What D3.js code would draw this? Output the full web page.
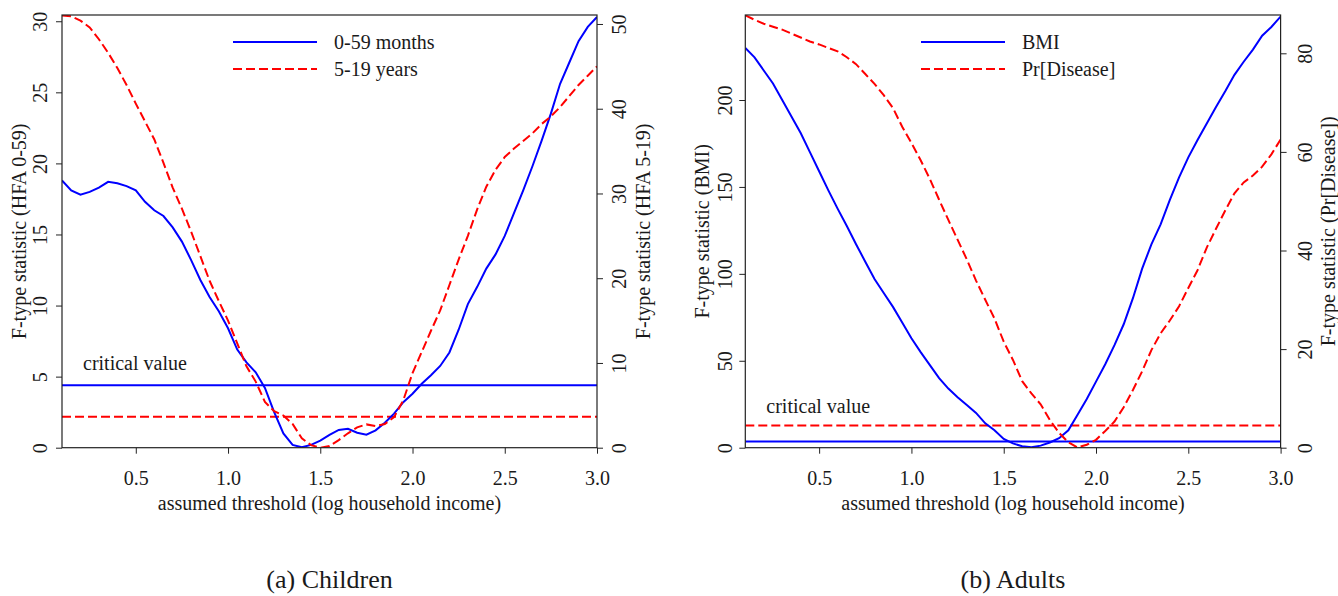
<!DOCTYPE html>
<html>
<head>
<meta charset="utf-8">
<script src="https://cdn.jsdelivr.net/npm/d3@7"></script>
<style>
  body { margin: 0; background: #fff; }
  svg text { font-family: "Liberation Serif", "Times New Roman", serif; fill: #1a1a1a; }
</style>
</head>
<body>
<svg id="chart" width="1338" height="596"></svg>
<script>
// assumed threshold (log household income)
const thresholds = [0.10, 0.15, 0.20, 0.25, 0.30, 0.35, 0.40, 0.45, 0.50, 0.55,
  0.60, 0.65, 0.70, 0.75, 0.80, 0.85, 0.90, 0.95, 1.00, 1.05,
  1.10, 1.15, 1.20, 1.25, 1.30, 1.35, 1.40, 1.45, 1.50, 1.55,
  1.60, 1.65, 1.70, 1.75, 1.80, 1.85, 1.90, 1.95, 2.00, 2.05,
  2.10, 2.15, 2.20, 2.25, 2.30, 2.35, 2.40, 2.45, 2.50, 2.55,
  2.60, 2.65, 2.70, 2.75, 2.80, 2.85, 2.90, 2.95, 3.00];

// (a) children
const hfa0to59 = [18.8, 18.1, 17.8, 18.0, 18.3, 18.7, 18.6, 18.4, 18.1, 17.3,
  16.7, 16.3, 15.5, 14.5, 13.2, 11.8, 10.6, 9.6, 8.4, 6.9,
  6.0, 5.3, 4.2, 2.5, 1.0, 0.2, 0.03, 0.2, 0.5, 0.9,
  1.25, 1.33, 1.05, 0.92, 1.22, 1.75, 2.4, 3.2, 3.8, 4.5,
  5.1, 5.75, 6.7, 8.3, 10.1, 11.3, 12.6, 13.6, 14.9, 16.5,
  18.1, 19.8, 21.6, 23.5, 25.6, 27.1, 28.6, 29.6, 30.3];
const hfa5to19 = [51.0, 50.9, 50.4, 49.6, 48.2, 46.6, 44.8, 42.8, 40.6, 38.5,
  36.4, 33.6, 30.7, 28.2, 25.5, 22.6, 19.7, 17.3, 15.0, 12.3,
  9.6, 7.8, 5.4, 4.3, 3.8, 2.8, 1.1, 0.3, 0.0, 0.2,
  0.9, 1.7, 2.4, 2.75, 2.55, 2.8, 3.6, 5.6, 8.8, 11.3,
  13.8, 16.2, 19.2, 22.2, 25.0, 28.1, 30.8, 32.8, 34.3, 35.3,
  36.2, 37.1, 38.2, 39.1, 40.2, 41.5, 42.8, 43.9, 45.0];
const critHfa0to59 = 4.4;
const critHfa5to19 = 3.66;

// (b) adults
const bmi = [230, 224.5, 217, 209.5, 200, 190.5, 181, 170, 159, 148,
  137.5, 127.5, 117, 107, 97, 89, 81, 72, 63, 55,
  47.5, 40, 34, 29, 24.5, 20, 14, 10, 5, 2.5,
  0.8, 0.2, 1.2, 3, 5.5, 10, 19, 28, 38, 48,
  59, 71, 86, 103, 117, 128.5, 142.5, 155.5, 167, 177,
  186.5, 196, 205, 214.5, 222, 229, 237, 242, 248];
const prDisease = [87.7, 86.8, 86.0, 85.4, 84.8, 84.0, 83.2, 82.4, 81.8, 81.1,
  80.4, 79.2, 77.8, 75.8, 73.8, 71.5, 68.9, 65.1, 61.8, 58.3,
  54.5, 50.3, 46.2, 42.2, 38.2, 33.9, 30.0, 26.2, 21.5, 17.8,
  13.5, 11.0, 8.8, 5.6, 3.0, 1.1, 0.05, 0.6, 1.6, 3.4,
  5.3, 8.2, 11.7, 15.5, 19.8, 23.2, 25.8, 28.7, 32.4, 36.0,
  40.6, 44.4, 48.1, 51.6, 53.8, 55.2, 57.0, 59.5, 62.5];
const critBmi = 3.5;
const critPrDisease = 4.5;

// ticks
const xTicks = [0.5, 1.0, 1.5, 2.0, 2.5, 3.0];
const hfa0to59Ticks = [0, 5, 10, 15, 20, 25, 30];
const hfa5to19Ticks = [0, 10, 20, 30, 40, 50];
const bmiTicks = [0, 50, 100, 150, 200];
const prDiseaseTicks = [0, 20, 40, 60, 80];

const svg = d3.select('#chart');
svg.append('rect').attr('width', 1338).attr('height', 596).attr('fill', '#fff');

function drawPanel(p) {
  var x = d3.scaleLinear().domain([0.1, 3.0]).range([p.left, p.right]);
  var yL = d3.scaleLinear().domain([0, p.leftMax]).range([p.bottom, p.top]);
  var yR = d3.scaleLinear().domain([0, p.rightMax]).range([p.bottom, p.top]);

  var g = svg.append('g');

  // x axis
  var xAxis = g.append('g')
    .attr('transform', 'translate(0,' + p.bottom + ')')
    .call(d3.axisBottom(x).tickValues(xTicks).tickFormat(d3.format('.1f')).tickSize(6).tickSizeOuter(0));
  xAxis.select('.domain').remove();
  xAxis.selectAll('text').attr('y', 37).attr('dy', null).style('font-size', '20px');

  // left axis
  var lAxis = g.append('g')
    .attr('transform', 'translate(' + p.left + ',0)')
    .call(d3.axisLeft(yL).tickValues(p.leftTicks).tickSize(6).tickSizeOuter(0));
  lAxis.select('.domain').remove();
  lAxis.selectAll('text')
    .attr('x', null).attr('dy', null)
    .attr('text-anchor', 'middle')
    .attr('transform', 'translate(' + (-p.leftLabelOff) + ',0) rotate(-90)')
    .style('font-size', '20px');

  // right axis
  var rAxis = g.append('g')
    .attr('transform', 'translate(' + p.right + ',0)')
    .call(d3.axisRight(yR).tickValues(p.rightTicks).tickSize(6).tickSizeOuter(0));
  rAxis.select('.domain').remove();
  rAxis.selectAll('text')
    .attr('x', null).attr('dy', null)
    .attr('text-anchor', 'middle')
    .attr('transform', 'translate(' + p.rightLabelOff + ',0) rotate(-90)')
    .style('font-size', '20px');

  g.selectAll('.tick line').attr('stroke', '#222');

  // axis titles
  g.append('text')
    .attr('x', (p.left + p.right) / 2).attr('y', 510)
    .attr('text-anchor', 'middle')
    .style('font-size', '20px')
    .text('assumed threshold (log household income)');

  var midY = (p.top + p.bottom) / 2;
  g.append('text')
    .attr('transform', 'translate(' + (p.left - p.leftTitleOff) + ',' + midY + ') rotate(-90)')
    .attr('text-anchor', 'middle')
    .style('font-size', '20px')
    .text(p.leftTitle);
  g.append('text')
    .attr('transform', 'translate(' + (p.right + p.rightTitleOff) + ',' + midY + ') rotate(-90)')
    .attr('text-anchor', 'middle')
    .style('font-size', '20px')
    .text(p.rightTitle);

  // clip to plot region
  var clipId = 'clip-' + p.id;
  g.append('clipPath').attr('id', clipId)
    .append('rect')
    .attr('x', p.left).attr('y', p.top)
    .attr('width', p.right - p.left).attr('height', p.bottom - p.top);

  var plot = g.append('g').attr('clip-path', 'url(#' + clipId + ')');

  // critical value lines
  plot.append('line')
    .attr('x1', p.left).attr('x2', p.right)
    .attr('y1', yL(p.leftCrit)).attr('y2', yL(p.leftCrit))
    .style('stroke', '#0000ff').style('stroke-width', 2);
  plot.append('line')
    .attr('x1', p.left).attr('x2', p.right)
    .attr('y1', yR(p.rightCrit)).attr('y2', yR(p.rightCrit))
    .style('stroke', '#ff0000').style('stroke-width', 2)
    .style('stroke-dasharray', '9,4');

  var lineL = d3.line()
    .x(function (d, i) { return x(thresholds[i]); })
    .y(function (d) { return yL(d); });
  var lineR = d3.line()
    .x(function (d, i) { return x(thresholds[i]); })
    .y(function (d) { return yR(d); });

  plot.append('path')
    .datum(p.leftSeries)
    .attr('d', lineL)
    .style('fill', 'none')
    .style('stroke', '#0000ff')
    .style('stroke-width', 2);

  plot.append('path')
    .datum(p.rightSeries)
    .attr('d', lineR)
    .style('fill', 'none')
    .style('stroke', '#ff0000')
    .style('stroke-width', 2)
    .style('stroke-dasharray', '9,4');

  // box
  g.append('rect')
    .attr('x', p.left).attr('y', p.top)
    .attr('width', p.right - p.left).attr('height', p.bottom - p.top)
    .style('fill', 'none').style('stroke', '#222').style('stroke-width', 1.2);

  // critical value label
  g.append('text')
    .attr('x', p.left + 21).attr('y', p.critLabelY)
    .style('font-size', '20px')
    .text('critical value');

  // legend
  g.append('line')
    .attr('x1', p.legendX).attr('x2', p.legendX + 84)
    .attr('y1', 42).attr('y2', 42)
    .style('stroke', '#0000ff').style('stroke-width', 2);
  g.append('line')
    .attr('x1', p.legendX).attr('x2', p.legendX + 84)
    .attr('y1', 69).attr('y2', 69)
    .style('stroke', '#ff0000').style('stroke-width', 2)
    .style('stroke-dasharray', '9,4');
  g.append('text')
    .attr('x', p.legendX + 101).attr('y', 49)
    .style('font-size', '20px')
    .text(p.leftName);
  g.append('text')
    .attr('x', p.legendX + 101).attr('y', 76)
    .style('font-size', '20px')
    .text(p.rightName);

  // panel caption
  g.append('text')
    .attr('x', (p.left + p.right) / 2).attr('y', 588)
    .attr('text-anchor', 'middle')
    .style('font-size', '26px')
    .text(p.caption);
}

drawPanel({
  id: 'a',
  left: 62, right: 597, top: 15, bottom: 447.7,
  leftMax: 30.44, rightMax: 51.06,
  leftTicks: hfa0to59Ticks, rightTicks: hfa5to19Ticks,
  leftSeries: hfa0to59, rightSeries: hfa5to19,
  leftCrit: critHfa0to59, rightCrit: critHfa5to19,
  leftTitle: 'F-type statistic (HFA 0-59)',
  rightTitle: 'F-type statistic (HFA 5-19)',
  leftName: '0-59 months', rightName: '5-19 years',
  leftLabelOff: 15, rightLabelOff: 29,
  leftTitleOff: 36, rightTitleOff: 53,
  critLabelY: 370,
  legendX: 233,
  caption: '(a) Children'
});

drawPanel({
  id: 'b',
  left: 745.3, right: 1280.6, top: 15, bottom: 447.7,
  leftMax: 248.9, rightMax: 87.77,
  leftTicks: bmiTicks, rightTicks: prDiseaseTicks,
  leftSeries: bmi, rightSeries: prDisease,
  leftCrit: critBmi, rightCrit: critPrDisease,
  leftTitle: 'F-type statistic (BMI)',
  rightTitle: 'F-type statistic (Pr[Disease])',
  leftName: 'BMI', rightName: 'Pr[Disease]',
  leftLabelOff: 13.5, rightLabelOff: 31,
  leftTitleOff: 36, rightTitleOff: 54,
  critLabelY: 413,
  legendX: 921,
  caption: '(b) Adults'
});
</script>
</body>
</html>
